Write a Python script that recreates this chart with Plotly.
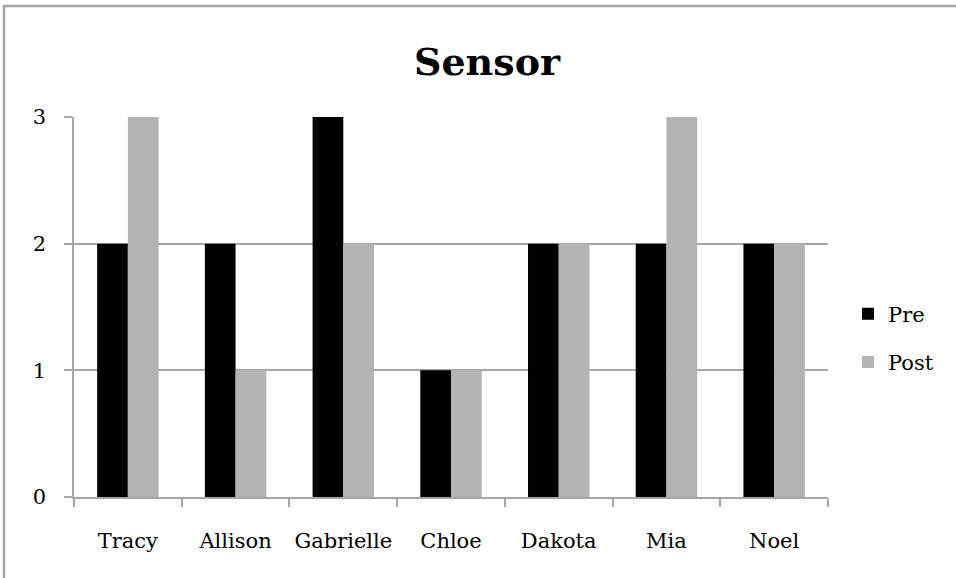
import plotly.graph_objects as go

# Scores per student, before and after
students = ["Tracy", "Allison", "Gabrielle", "Chloe", "Dakota", "Mia", "Noel"]
pre_scores = [2, 2, 3, 1, 2, 2, 2]
post_scores = [3, 1, 2, 1, 2, 3, 2]
y_ticks = [0, 1, 2, 3]

W, H = 956, 578
L, R, T, B = 74, 128, 117, 81
plot_w = W - L - R
plot_h = H - T - B

serif = "DejaVu Serif, Liberation Serif, serif"
grid_col = "#a6a6a6"

fig = go.Figure()
fig.add_trace(go.Bar(
    x=students, y=pre_scores, name="Pre",
    marker=dict(color="#000000", line=dict(width=0)),
    legendgroup="pre",
))
fig.add_trace(go.Bar(
    x=students, y=post_scores, name="Post",
    marker=dict(color="#b3b3b3", line=dict(width=0)),
    legendgroup="post",
))


def px_x(p):
    return (p - L) / plot_w


def px_y(p):
    return (H - B - p) / plot_h


fig.update_layout(
    width=W, height=H,
    margin=dict(l=L, r=R, t=T, b=B),
    paper_bgcolor="white",
    plot_bgcolor="white",
    barmode="group",
    bargap=0.43,
    bargroupgap=0,
    title=dict(
        text="<b>Sensor</b>",
        x=px_x(487), xanchor="center", xref="paper",
        y=1 - 62 / H, yanchor="middle", yref="container",
        font=dict(family=serif, size=38, color="#000000"),
    ),
    font=dict(family=serif, size=21, color="#000000"),
    showlegend=True,
    legend=dict(
        x=px_x(848), y=px_y(338), xanchor="left", yanchor="middle",
        font=dict(family=serif, size=21, color="#000000"),
        tracegroupgap=18,
        itemwidth=30,
        bgcolor="rgba(0,0,0,0)",
    ),
    xaxis=dict(
        showline=True, linecolor=grid_col, linewidth=2,
        ticks="outside", tickson="boundaries", ticklen=8,
        tickcolor=grid_col, tickwidth=1.5,
        showgrid=False,
        tickfont=dict(family=serif, size=21),
        ticklabelstandoff=24,
    ),
    yaxis=dict(
        range=[0, 3], tickvals=y_ticks,
        showline=True, linecolor=grid_col, linewidth=1.5,
        ticks="outside", ticklen=8, tickcolor=grid_col, tickwidth=1.5,
        showgrid=True, gridcolor=grid_col, gridwidth=2,
        zeroline=False,
        tickfont=dict(family=serif, size=21),
        ticklabelstandoff=14,
    ),
    shapes=[dict(
        type="rect", xref="paper", yref="paper",
        x0=px_x(4), x1=px_x(W + 10), y0=px_y(H + 10), y1=px_y(6),
        line=dict(color="#a6a6a6", width=2.5), fillcolor="rgba(0,0,0,0)",
        layer="below",
    )],
)

fig.write_html("out.html")
